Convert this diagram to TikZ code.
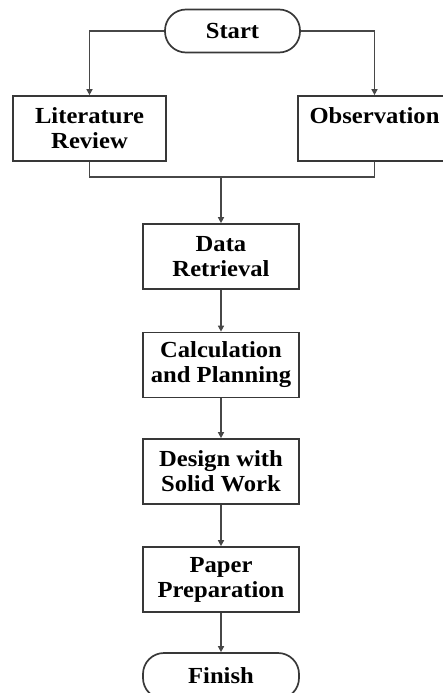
\documentclass[tikz,border=0pt]{standalone}
\usepackage{fontspec}
\setmainfont{Liberation Serif}
\newfontfamily\boxfont[FakeStretch=1.07]{Liberation Serif}
\usetikzlibrary{arrows.meta}
\begin{document}
\begin{tikzpicture}[x=1pt,y=-1pt,
  box/.style={draw=black!78, line width=1.7pt, minimum width=156pt, minimum height=65pt,
    align=center, inner sep=0pt, font=\boxfont\fontsize{23}{25}\selectfont\bfseries},
  term/.style={box, rounded corners=21pt, minimum height=43pt},
  link/.style={draw=black!72, line width=1.6pt},
  arr/.style={link, -{Triangle[length=6pt,width=6pt]}}]
\useasboundingbox (0,0) rectangle (443,693);
\begin{scope}
\clip (0,0) rectangle (443,693);
% process steps
\node[term, minimum width=135pt] (start) at (232.5,31) {Start};
\node[box, minimum width=153pt] (lit) at (89.5,128.5) {Literature\\Review};
\node[box, minimum width=153pt] (obs) at (374.5,128.5) {Observation\\\mbox{}};
\node[box] (data) at (221,256.5) {Data\\Retrieval};
\node[box] (calc) at (221,365) {Calculation\\and Planning};
\node[box] (design) at (221,471.5) {Design with\\Solid Work};
\node[box] (paper) at (221,579.5) {Paper\\Preparation};
\node[term, minimum width=156pt, minimum height=46pt] (finish) at (221,676) {Finish};
% branches from the start
\draw[arr] (start.west) -| (lit.north);
\draw[arr] (start.east) -| (obs.north);
% merge of both studies
\coordinate (join) at (221,177);
\draw[link] (lit.south) |- (join) -| (obs.south);
\draw[arr, line width=2.3pt] (join) -- (data.north);
% main sequence
\draw[arr] (data) -- (calc);
\draw[arr] (calc) -- (design);
\draw[arr] (design) -- (paper);
\draw[arr] (paper) -- (finish);
\end{scope}
\end{tikzpicture}
\end{document}
